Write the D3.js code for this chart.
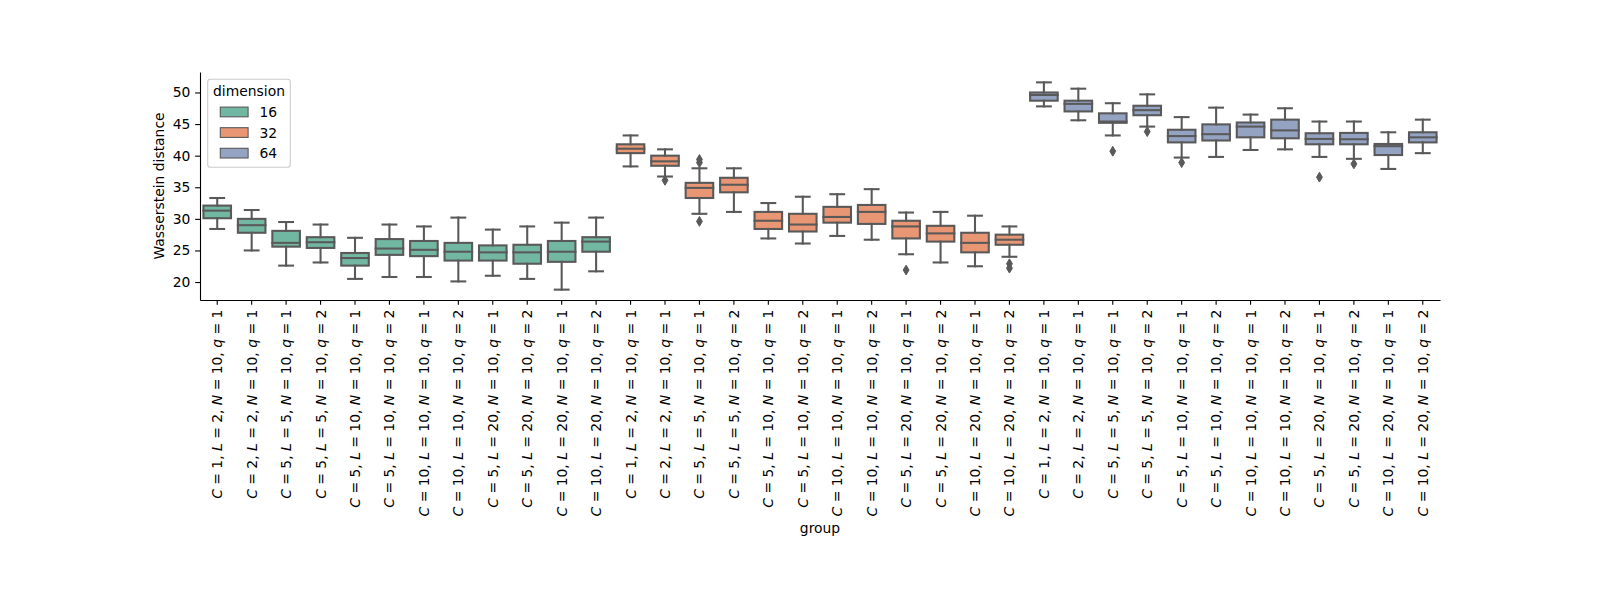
<!DOCTYPE html>
<html><head><meta charset="utf-8">
<script src="https://cdn.jsdelivr.net/npm/d3@7"></script>
<style>body{margin:0;background:#fff} text{font-family:"DejaVu Sans",sans-serif}</style>
</head><body><svg id="c" width="1600" height="600"></svg>
<script>
const groups = [
  "C = 1, L = 2, N = 10, q = 1",
  "C = 2, L = 2, N = 10, q = 1",
  "C = 5, L = 5, N = 10, q = 1",
  "C = 5, L = 5, N = 10, q = 2",
  "C = 5, L = 10, N = 10, q = 1",
  "C = 5, L = 10, N = 10, q = 2",
  "C = 10, L = 10, N = 10, q = 1",
  "C = 10, L = 10, N = 10, q = 2",
  "C = 5, L = 20, N = 10, q = 1",
  "C = 5, L = 20, N = 10, q = 2",
  "C = 10, L = 20, N = 10, q = 1",
  "C = 10, L = 20, N = 10, q = 2"
];
const dimensions = ["16", "32", "64"];
const whiskerLow = [28.4, 25.0, 22.6, 23.1, 20.5, 20.8, 20.8, 20.1, 21.0, 20.5, 18.8, 21.7,
                    38.3, 36.7, 30.8, 31.1, 26.9, 26.1, 27.3, 26.7, 24.4, 23.1, 22.5, 24.0,
                    47.8, 45.6, 43.2, 44.6, 39.7, 39.8, 40.9, 41.0, 39.8, 39.5, 37.9, 40.4];
const q1 = [30.1, 27.8, 25.6, 25.4, 22.6, 24.3, 24.1, 23.4, 23.4, 22.9, 23.2, 24.8,
            40.4, 38.4, 33.3, 34.2, 28.4, 28.0, 29.4, 29.2, 26.9, 26.4, 24.7, 25.9,
            48.7, 47.0, 45.2, 46.4, 42.1, 42.4, 42.9, 42.75, 41.8, 41.8, 40.1, 42.1];
const median = [31.3, 29.0, 26.2, 26.3, 23.8, 25.3, 25.1, 24.8, 24.7, 24.7, 24.8, 26.4,
                41.1, 39.1, 34.9, 35.4, 29.7, 29.1, 30.3, 31.1, 28.8, 27.7, 26.2, 26.7,
                49.6, 48.2, 45.4, 47.2, 43.1, 43.4, 44.6, 44.0, 42.65, 42.6, 41.5, 42.9];
const q3 = [32.1, 30.0, 28.1, 27.1, 24.6, 26.8, 26.5, 26.2, 25.8, 25.9, 26.5, 27.1,
            41.8, 40.0, 35.7, 36.5, 31.1, 30.8, 31.9, 32.2, 29.7, 28.9, 27.8, 27.5,
            50.0, 48.7, 46.7, 47.9, 44.1, 44.95, 45.25, 45.7, 43.55, 43.6, 41.85, 43.7];
const whiskerHigh = [33.3, 31.4, 29.5, 29.1, 27.0, 29.1, 28.8, 30.2, 28.3, 28.8, 29.4, 30.2,
                     43.2, 41.0, 38.0, 38.0, 32.5, 33.5, 33.9, 34.7, 31.0, 31.1, 30.5, 28.8,
                     51.6, 50.6, 48.3, 49.7, 46.1, 47.6, 46.5, 47.5, 45.4, 45.4, 43.7, 45.7];
const outliers = [[], [], [], [], [], [], [], [], [], [], [], [],
                  [], [36.1], [39.4, 38.9, 29.6], [], [], [], [], [], [21.9], [], [], [22.9, 22.2],
                  [], [], [40.7], [43.8], [38.9], [], [], [], [36.6], [38.7], [], []];
const yTicks = [20, 25, 30, 35, 40, 45, 50];
const palette = ["#71b7a1", "#e99675", "#95a3c3"];

const pLeft = 200, pRight = 1440, pTop = 72, pBottom = 300;
const FS = 13.89, TICK = 4.86, LW = 2.08, GRAY = "#595959";
const svg = d3.select("#c");

const n = groups.length * dimensions.length;
const keys = d3.range(n);
const x = d3.scaleBand().domain(keys).range([pLeft, pRight]).padding(0);
const allVals = whiskerLow.concat(whiskerHigh, outliers.flat());
const lo = d3.min(allVals), hi = d3.max(allVals), pad = (hi - lo) * 0.05;
const y = d3.scaleLinear().domain([lo - pad, hi + pad]).range([pBottom, pTop]);

// Boxes
const bw = x.bandwidth() * 0.8;
const capW = bw * 0.5;
keys.forEach(i => {
  const d = Math.floor(i / groups.length);
  const cx = x(i) + x.bandwidth() / 2;
  const g = svg.append("g");
  g.append("rect")
    .attr("x", cx - bw / 2).attr("width", bw)
    .attr("y", y(q3[i])).attr("height", y(q1[i]) - y(q3[i]))
    .attr("fill", palette[d]).attr("stroke", GRAY).attr("stroke-width", LW)
    .attr("stroke-linejoin", "miter");
  const seg = (x1, y1, x2, y2) => g.append("line")
    .attr("x1", x1).attr("y1", y1).attr("x2", x2).attr("y2", y2)
    .attr("stroke", GRAY).attr("stroke-width", LW).attr("stroke-linecap", "square");
  seg(cx, y(q3[i]), cx, y(whiskerHigh[i]));
  seg(cx, y(q1[i]), cx, y(whiskerLow[i]));
  seg(cx - capW / 2, y(whiskerHigh[i]), cx + capW / 2, y(whiskerHigh[i]));
  seg(cx - capW / 2, y(whiskerLow[i]), cx + capW / 2, y(whiskerLow[i]));
  seg(cx - bw / 2, y(median[i]), cx + bw / 2, y(median[i]));
  const mh = 9.8, mw = mh * 0.6;
  outliers[i].forEach(v => {
    const py = y(v);
    g.append("path")
      .attr("d", `M${cx},${py - mh / 2}L${cx + mw / 2},${py}L${cx},${py + mh / 2}L${cx - mw / 2},${py}Z`)
      .attr("fill", GRAY).attr("stroke", GRAY).attr("stroke-width", 1);
  });
});

// Y axis
const ya = svg.append("g").attr("transform", `translate(${pLeft},0)`)
  .call(d3.axisLeft(y).tickValues(yTicks).tickSize(TICK).tickPadding(TICK).tickSizeOuter(0));
ya.selectAll("path,line").attr("stroke", "#000").attr("stroke-width", 1.1);
ya.selectAll("text").attr("font-size", FS).attr("font-family", "DejaVu Sans").attr("fill", "#000");

// X axis
const xa = svg.append("g").attr("transform", `translate(0,${pBottom})`)
  .call(d3.axisBottom(x).tickSize(TICK).tickSizeOuter(0).tickFormat(i => groups[i % groups.length]));
xa.selectAll("path,line").attr("stroke", "#000").attr("stroke-width", 1.1);
xa.selectAll("text").each(function(i) {
  const t = d3.select(this);
  const label = groups[i % groups.length];
  t.text(null)
    .attr("font-size", FS).attr("font-family", "DejaVu Sans").attr("fill", "#000")
    .attr("transform", "rotate(-90)")
    .attr("x", -(TICK + TICK)).attr("y", 0).attr("dy", "0.36em")
    .attr("text-anchor", "end");
  label.split(/([CLNq])/).filter(s => s.length).forEach(s => {
    t.append("tspan").text(s).attr("font-style", /^[CLNq]$/.test(s) ? "italic" : "normal");
  });
});

// Axis labels
svg.append("text").attr("x", (pLeft + pRight) / 2).attr("y", 533)
  .attr("text-anchor", "middle").attr("font-size", FS).text("group");
svg.append("text").attr("transform", `translate(164,${(pTop + pBottom) / 2}) rotate(-90)`)
  .attr("text-anchor", "middle").attr("font-size", FS).text("Wasserstein distance");

// Legend
const lg = svg.append("g");
lg.append("rect").attr("x", 207.7).attr("y", 79.3).attr("width", 82.6).attr("height", 88)
  .attr("rx", 2.8).attr("fill", "#fff").attr("fill-opacity", 0.8)
  .attr("stroke", "#cccccc").attr("stroke-width", 1.1);
lg.append("text").attr("x", 249).attr("y", 96).attr("text-anchor", "middle")
  .attr("font-size", FS).text("dimension");
dimensions.forEach((dname, k) => {
  const cy = 112 + k * 20.6;
  lg.append("rect").attr("x", 220.3).attr("y", cy - 4.9).attr("width", 27.8).attr("height", 9.7)
    .attr("fill", palette[k]).attr("stroke", GRAY).attr("stroke-width", 1.1);
  lg.append("text").attr("x", 259.5).attr("y", cy + 5).attr("font-size", FS).text(dname);
});
</script></body></html>
